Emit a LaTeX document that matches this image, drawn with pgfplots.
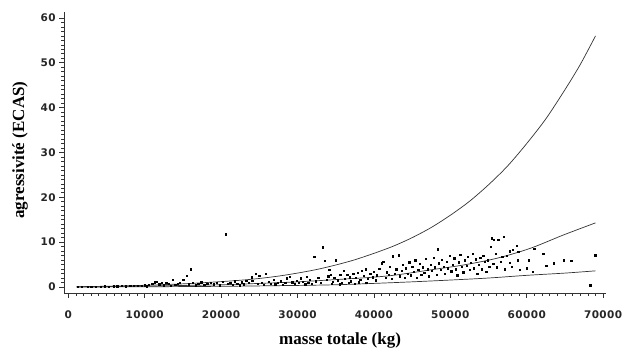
\documentclass[border=0pt]{standalone}
\usepackage{fontspec}
\setmainfont{Liberation Serif}
\newfontfamily\tickfont[LetterSpace=4]{DejaVu Sans}
\usepackage{pgfplots}
\pgfplotsset{compat=1.18}
\begin{document}
\begin{tikzpicture}
\useasboundingbox (0,0) rectangle (629pt,356pt);
\begin{axis}[
 at={(64.3pt,63pt)}, anchor=south west,
 scale only axis, width=541.9pt, height=281.3pt,
 xmin=-520, xmax=70400, ymin=-1.34, ymax=61.4,
 axis lines*=left,
 axis line style={line width=0.8pt, black!80, -},
 xtick={0,10000,...,70000}, ytick={0,10,...,60},
 minor x tick num=9, minor y tick num=9,
 tick align=outside,
 major tick length=5pt, minor tick length=3pt,
 tick style={line width=0.7pt, black!80},
 scaled x ticks=false,
 /pgf/number format/assume math mode=true,
 /pgf/number format/set thousands separator={},
 ticklabel style={font=\tickfont\bfseries\fontsize{10.5}{12}\selectfont, black!85},
 xticklabel style={yshift=-9pt},
 xlabel={masse totale (kg)}, ylabel={agressivité (ECAS)},
 label style={font=\bfseries\fontsize{17}{20}\selectfont},
 xlabel style={at={(axis description cs:0.509,-0.170)}, anchor=center},
 ylabel style={at={(axis description cs:-0.0817,0.508)}, anchor=center},
 clip=false,
]
% upper curve
\addplot[smooth, black!80, line width=0.7pt] coordinates {
(1100,0.06)(5000,0.17)(10000,0.38)(15000,0.7)(20000,1.2)(22500,1.5)(25000,1.9)(27500,2.43)(30000,3.1)(32500,3.9)(35000,4.9)(37500,6.07)(40000,7.5)(42500,9.08)(45000,11.0)(47500,13.27)(50000,16.0)(52500,19.1)(55000,22.8)(57500,27.0)(60000,32.0)(62500,37.5)(65000,44.0)(67000,49.6)(69000,56.0)};
% middle curve
\addplot[smooth, black!80, line width=0.7pt] coordinates {
(1100,0.02)(10000,0.2)(20000,0.5)(25000,0.8)(30000,1.15)(35000,1.65)(40000,2.2)(43000,2.7)(47340,3.8)(51700,4.9)(56070,6.4)(60430,8.6)(64800,11.6)(69000,14.3)};
% lower curve
\addplot[smooth, black!80, line width=0.7pt] coordinates {
(1100,0.0)(10000,0.05)(20000,0.15)(30000,0.35)(35000,0.5)(40000,0.8)(45000,1.15)(50000,1.55)(55000,2.0)(60000,2.6)(65000,3.1)(69000,3.6)};
% observations
\addplot[only marks, mark=square*, mark size=0.65pt, black] coordinates {
(1200,0.05)(1800,0.08)(2500,0.1)(3000,0.05)(3600,0.12)(4200,0.1)(4800,0.15)(5300,0.1)(5900,0.2)(6400,0.15)(7000,0.25)(7500,0.18)(8100,0.3)(8600,0.22)(9100,0.35)(9600,0.28)(10000,0.4)(10300,0.2)
(10500,0.5)(11000,0.8)(11300,1.1)(11600,1.2)(11900,0.6)(12200,1.0)(12500,0.4)(12800,0.9)(13100,0.7)(13400,0.3)(13660,1.7)(14000,0.5)(14300,0.8)(14600,1.0)(15060,1.56)(15500,2.45)(15800,0.6)(16060,3.95)(16300,0.9)(16700,0.4)(17000,0.7)(17400,1.1)(17800,0.5)(18200,0.8)(18600,1.0)(19000,0.6)(19400,0.9)(19800,0.4)(20200,1.2)(20600,11.8)(20900,0.7)
(21200,1.0)(21500,0.5)(21800,1.3)(22100,0.8)(22400,0.4)(22700,1.1)(23000,0.6)(23300,1.4)(23600,0.9)(24000,2.2)(24090,1.34)(24570,2.9)(24800,0.7)(25000,2.45)(25300,1.0)(25600,0.5)(25880,2.9)(26200,1.2)(26500,0.8)(26840,1.56)(27100,0.6)(27400,1.0)(27800,1.3)(28100,0.5)(28400,0.9)(28590,1.94)(29020,2.3)(29300,1.1)(29600,0.7)(29900,1.4)
(30200,0.9)(30420,1.94)(30700,1.2)(31000,0.6)(31200,2.3)(31400,1.0)(31640,1.56)(31900,0.8)(32200,6.8)(32400,1.3)(32700,2.0)(33000,0.9)(33300,8.9)(33600,5.9)(33800,1.6)(34000,2.4)(34160,3.8)(34350,2.7)(34600,1.2)(34800,2.0)(35040,6.0)(35300,1.5)(35600,2.8)(35800,0.9)(36000,3.6)(36200,1.8)(36500,2.7)(36800,2.2)(37000,1.3)(37300,3.0)
(34500,0.8)(35500,0.6)(36700,1.0)(37500,0.7)(38000,1.1)(39000,0.9)
(37600,2.0)(37900,3.2)(38200,1.6)(38400,3.6)(38700,2.5)(38970,3.95)(39200,1.8)(39500,2.9)(39800,2.2)(40000,3.4)
(40200,1.5)(40400,2.6)(40700,4.1)(41020,5.3)(41230,5.65)(41500,2.0)(41700,3.3)(41900,2.7)(42100,4.5)(42300,1.8)(42460,6.9)(42700,3.0)(42900,4.0)(43200,7.1)(43400,2.4)
(43600,3.6)(43800,5.0)(44000,2.1)(44200,4.2)(44400,3.0)(44600,5.5)(44800,2.6)(45000,4.6)(45200,3.4)(45400,6.0)(45600,2.0)(45800,3.9)(46000,5.2)(46200,2.8)(46400,4.4)(46600,3.2)(46800,6.3)(47000,4.0)(47200,2.4)
(47400,5.0)(47600,3.6)(47800,6.5)(48000,4.4)(48200,2.8)(48350,8.4)(48500,5.3)(48700,3.9)(48900,6.1)(49100,4.6)(49300,3.0)(49500,5.7)(49700,4.2)(49900,7.0)(50100,3.5)(50300,5.0)(50500,6.4)(50700,4.0)(50900,2.6)(51100,5.5)(51300,7.2)(51500,4.5)(51700,3.3)(51900,6.0)
(52100,4.8)(52300,6.8)(52500,3.8)(52700,5.4)(52900,7.5)(53100,4.2)(53300,6.2)(53500,2.9)(53700,5.0)(53900,6.6)(54100,4.0)(54300,7.0)(54500,5.6)(54700,3.4)(54900,6.0)(55100,4.6)(55290,9.0)(55420,10.9)(55600,5.2)(55720,10.6)(55900,7.4)(56100,4.4)(56280,10.5)(56590,5.65)(56800,6.8)(56940,11.2)(57100,4.0)
(57400,7.0)(57810,8.0)(57810,5.4)(58040,4.5)(58170,8.3)(58690,9.15)(58820,6.0)(58900,7.9)(59120,3.8)(60000,4.2)(60300,6.0)(60790,3.4)(60960,8.6)(62170,7.4)(62530,4.7)(63570,5.3)(64800,6.0)(65800,5.9)(68290,0.38)(68940,7.1)
};
\end{axis}
\end{tikzpicture}
\end{document}
